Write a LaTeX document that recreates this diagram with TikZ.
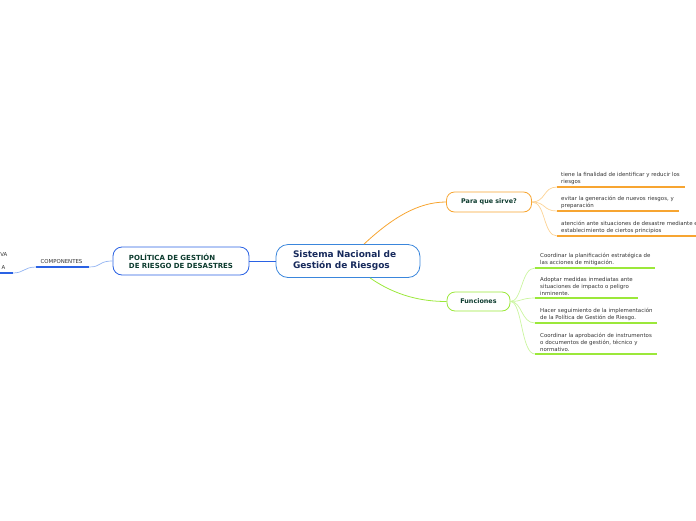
\documentclass[tikz,border=0pt]{standalone}
\usepackage{fontspec}
\setmainfont{DejaVu Sans}
\usepackage{xcolor}
\usetikzlibrary{arrows.meta}
\usetikzlibrary{calc}

\definecolor{azul}{HTML}{3A86DC}
\definecolor{azulos}{HTML}{2A62E4}
\definecolor{azulcl}{HTML}{93B4F2}
\definecolor{naranja}{HTML}{F7A531}
\definecolor{naranjacl}{HTML}{FCD293}
\definecolor{verde}{HTML}{9BE83A}
\definecolor{verdecl}{HTML}{CBF5A0}
\definecolor{txtverde}{HTML}{0C3B2E}
\definecolor{txtazul}{HTML}{172A5C}
\definecolor{txtgris}{HTML}{333333}

\tikzset{
  topic/.style={draw,fill=white,line width=0.8pt,rounded corners=9pt,align=left,inner sep=0pt},
  sub/.style={anchor=south west,align=left,inner sep=0pt,text=txtgris,font=\fontsize{5.45}{6.7}\selectfont},
}

\begin{document}
\begin{tikzpicture}[x=1pt,y=-1pt]
		\useasboundingbox (0,0) rectangle (696,520);
		
		% Central topic
		\node[topic,draw=azul,rounded corners=12pt,minimum width=144pt,minimum height=33pt,text width=112pt,
		      text=txtazul,font=\fontsize{9}{11}\selectfont\bfseries] (sis) at (348,261)
		      {\hspace*{1pt}Sistema Nacional de\\\hspace*{1pt}Gestión de Riesgos};
		
		% Left branch
		\node[topic,draw=azulos,minimum width=136pt,minimum height=28pt,
		      text=txtverde,font=\fontsize{7}{8.4}\selectfont\bfseries] (pol) at (181,261)
		      {POLÍTICA DE GESTIÓN\\DE RIESGO DE DESASTRES};
		\draw[azulos,line width=0.8pt] (sis.west) -- (pol.east);
		
		\coordinate (c1) at (89,267);
		\coordinate (c2) at (36,267);
		\coordinate (c3) at (13,273);
		\coordinate (c4) at (0,273);
		\node[anchor=south,inner sep=0pt,text=txtgris,font=\fontsize{5.4}{6}\selectfont] (comp) at (61.5,264) {COMPONENTES};
		\draw[azulcl,line width=0.7pt] (pol.west) .. controls (98,261) and (102,267) .. (c1);
		\draw[azulos,line width=1.6pt] (c1) -- (c2);
		\draw[azulcl,line width=0.7pt] (c2) .. controls (24,267) and (24,273) .. (c3);
		\draw[azulos,line width=1.6pt] (c3) -- (c4);
		\node[anchor=south east,inner sep=0pt,text=txtgris,font=\fontsize{5.4}{6}\selectfont] (va) at (7.5,257) {VA};
		\node[anchor=south east,inner sep=0pt,text=txtgris,font=\fontsize{5.4}{6}\selectfont] (aa) at (5.5,270) {A};
		
		% Para que sirve?
		\node[topic,draw=naranja,rounded corners=8pt,minimum width=85pt,minimum height=20pt,
		      text=txtverde,font=\fontsize{6.4}{8}\selectfont\bfseries] (pqs) at (489,202) {Para que sirve?};
		\draw[naranja,line width=0.8pt] ($(sis.north)+(16,0)$) .. controls (392,218) and (418,202) .. (pqs.west);
		
		\coordinate (o1) at (557,187); \coordinate (o1e) at (685,187);
		\coordinate (o2) at (557,211); \coordinate (o2e) at (679,211);
		\coordinate (o3) at (557,236); \coordinate (o3e) at (698,236);
		\node[sub] (t1) at (561,184.5) {tiene la finalidad de identificar y reducir los\\riesgos};
		\node[sub] (t2) at (561,208.5) {evitar la generación de nuevos riesgos, y\\preparación};
		\node[sub] (t3) at (561,233.5) {atención ante situaciones de desastre mediante el\\establecimiento de ciertos principios};
		\foreach \a/\b in {o1/o1e,o2/o2e,o3/o3e}{
			\draw[naranjacl,line width=0.7pt] (pqs.east) .. controls ($(pqs.east)+(14,0)$) and ($(\a)+(-14,0)$) .. (\a);
			\draw[naranja,line width=1.6pt] (\a) -- (\b);
		}
		
		% Funciones
		\node[topic,draw=verde,rounded corners=8pt,minimum width=63pt,minimum height=19pt,
		      text=txtverde,font=\fontsize{6.4}{8}\selectfont\bfseries] (fun) at (478.5,301.5) {Funciones};
		\draw[verde,line width=0.8pt] ($(sis.south)+(22,0)$) .. controls (396,296) and (422,301.5) .. (fun.west);
		
		\coordinate (v1) at (535,268); \coordinate (v1e) at (655,268);
		\coordinate (v2) at (535,298); \coordinate (v2e) at (638,298);
		\coordinate (v3) at (535,323); \coordinate (v3e) at (657,323);
		\coordinate (v4) at (535,354); \coordinate (v4e) at (657,354);
		\node[sub] (f1) at (540,265.5) {Coordinar la planificación estratégica de\\las acciones de mitigación.};
		\node[sub] (f2) at (540,295.5) {Adoptar medidas inmediatas ante\\situaciones de impacto o peligro\\inminente.};
		\node[sub] (f3) at (540,320.5) {Hacer seguimiento de la implementación\\de la Política de Gestión de Riesgo.};
		\node[sub] (f4) at (540,351.5) {Coordinar la aprobación de instrumentos\\o documentos de gestión, técnico y\\normativo.};
		\foreach \a/\b in {v1/v1e,v2/v2e,v3/v3e,v4/v4e}{
			\draw[verdecl,line width=0.7pt] (fun.east) .. controls ($(fun.east)+(12,0)$) and ($(\a)+(-14,0)$) .. (\a);
			\draw[verde,line width=1.6pt] (\a) -- (\b);
		}
	\end{tikzpicture}
\end{document}
